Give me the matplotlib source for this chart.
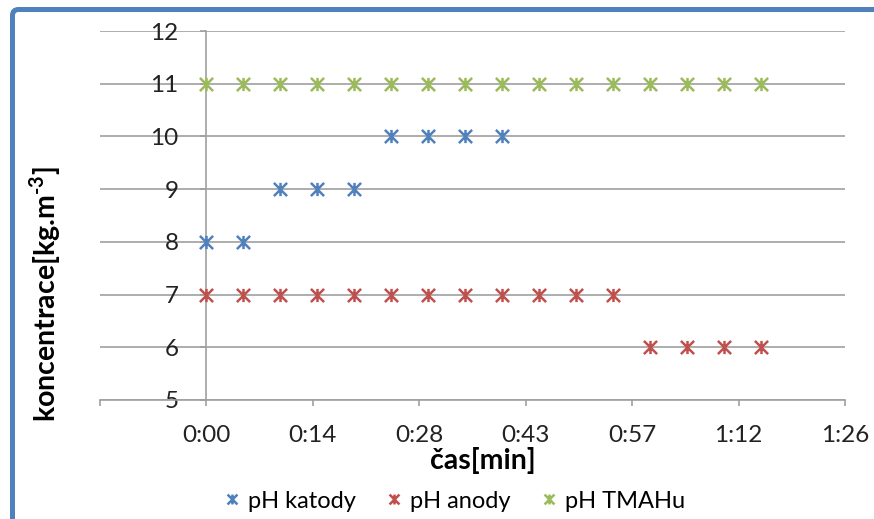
import matplotlib.pyplot as plt
from matplotlib.path import Path
from matplotlib.patches import FancyBboxPatch

plt.rcParams['font.family'] = ['Lato', 'DejaVu Sans']
plt.rcParams['mathtext.fontset'] = 'custom'
plt.rcParams['mathtext.rm'] = 'Lato:bold'

# time in minutes, measured every 5 min
cas_katoda = [0, 5, 10, 15, 20, 25, 30, 35, 40]
ph_katoda = [8, 8, 9, 9, 9, 10, 10, 10, 10]
cas_anoda = [0, 5, 10, 15, 20, 25, 30, 35, 40, 45, 50, 55, 60, 65, 70, 75]
ph_anoda = [7, 7, 7, 7, 7, 7, 7, 7, 7, 7, 7, 7, 6, 6, 6, 6]
cas_tmah = [0, 5, 10, 15, 20, 25, 30, 35, 40, 45, 50, 55, 60, 65, 70, 75]
ph_tmah = [11] * 16

# excel style axis: one tick per 0.01 day = 14.4 min
xticks = [-14.4, 0, 14.4, 28.8, 43.2, 57.6, 72, 86.4]
xlabels = ['', '0:00', '0:14', '0:28', '0:43', '0:57', '1:12', '1:26']
yticks = [5, 6, 7, 8, 9, 10, 11, 12]

# star marker: vertical bar plus an X
star = Path([(0, -1), (0, 1), (-1, -1), (1, 1), (-1, 1), (1, -1)],
            [Path.MOVETO, Path.LINETO, Path.MOVETO, Path.LINETO, Path.MOVETO, Path.LINETO])

fig = plt.figure(figsize=(8.74, 5.19), dpi=100)
W, H = 874, 519
ax = fig.add_axes([100 / W, 1 - 400 / H, 745 / W, 369 / H])

serie = [
    (cas_katoda, ph_katoda, '#4F81BD', 'pH katody'),
    (cas_anoda, ph_anoda, '#C0504D', 'pH anody'),
    (cas_tmah, ph_tmah, '#9BBB59', 'pH TMAHu'),
]
for x, y, c, lab in serie:
    ax.plot(x, y, linestyle='none', marker=star, markersize=9.5,
            markeredgewidth=1.8, color=c, label=lab, zorder=3)

ax.set_xlim(-14.4, 86.4)
ax.set_ylim(5, 12)
ax.set_xticks(xticks)
ax.set_xticklabels(xlabels)
ax.set_yticks(yticks)

grey = '#A0A0A0'
ax.grid(axis='y', color=grey, linewidth=1.2, zorder=0)
ax.spines['top'].set_visible(False)
ax.spines['right'].set_visible(False)
ax.spines['left'].set_position(('data', 0))
for s in ['left', 'bottom']:
    ax.spines[s].set_color(grey)
    ax.spines[s].set_linewidth(1.2)
ax.tick_params(axis='x', length=4, width=1.2, color=grey, pad=14, labelsize=17.5, labelcolor='#222222')
ax.tick_params(axis='y', length=4, width=1.2, color=grey, pad=16, labelsize=17.5, labelcolor='#222222')

fig.text(483 / W, 1 - 460 / H, 'čas[min]', ha='center', va='center',
         fontsize=20.5, fontweight='bold')
fig.text(45 / W, 1 - 294 / H, r'koncentrace[kg.m$^{\text{-3}}$]', ha='center', va='center',
         rotation=90, fontsize=20.5, fontweight='bold')

leg = fig.legend(loc='center', bbox_to_anchor=(455 / W, 1 - 501 / H), ncol=3,
                 frameon=False, fontsize=17, handlelength=0.6, handletextpad=0.4,
                 columnspacing=1.3, markerscale=0.75)

# chart border, only the top-left corner is inside the image
ramecek = FancyBboxPatch((12.5, -60), 1000, 519 - 9.5 + 60, transform=None,
                         boxstyle='round,pad=0,rounding_size=6', fill=False,
                         edgecolor='#4F81BD', linewidth=3.6, clip_on=False)
fig.add_artist(ramecek)

fig.savefig('out.png', dpi=100)
